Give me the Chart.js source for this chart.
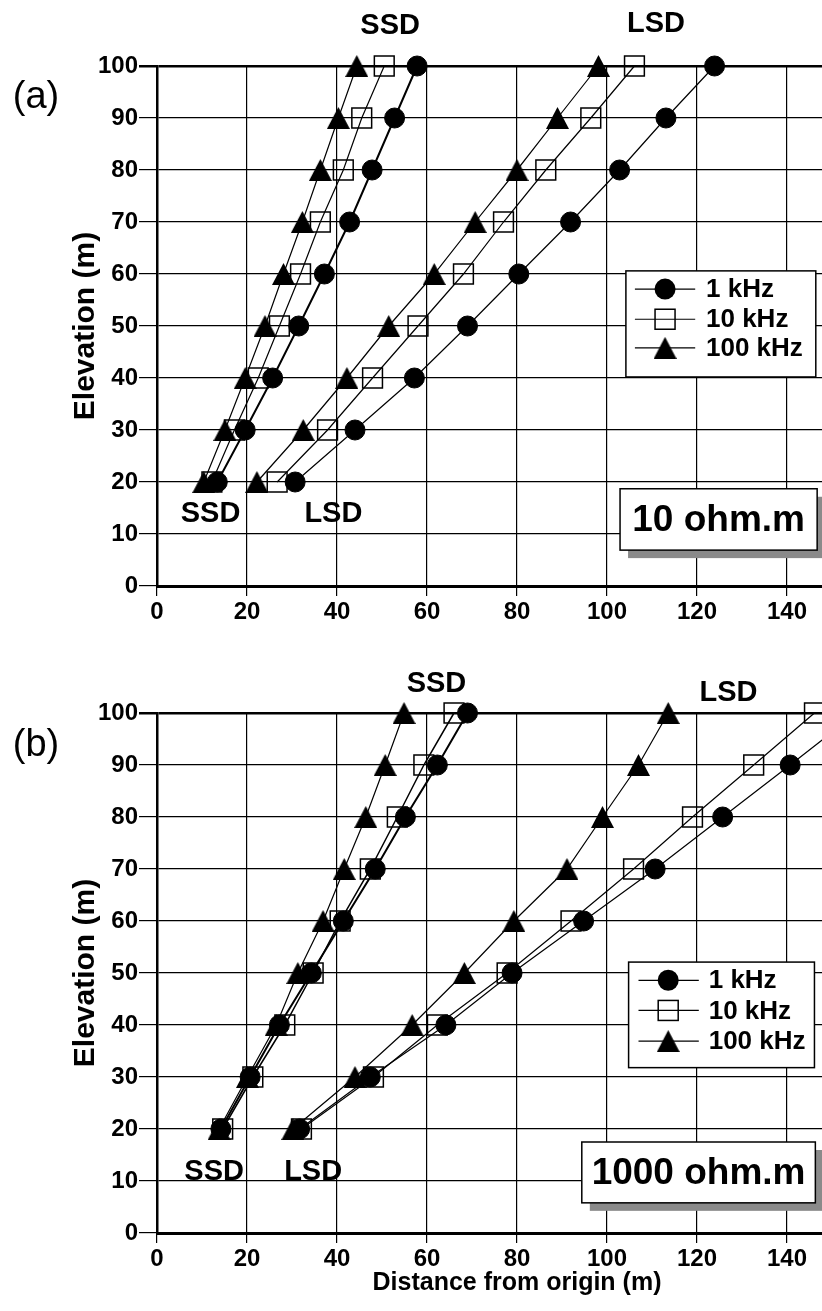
<!DOCTYPE html>
<html>
<head>
<meta charset="utf-8">
<title>Elevation vs distance from origin</title>
<script src="https://cdn.jsdelivr.net/npm/chart.js@4.4.0/dist/chart.umd.min.js"></script>
<style>
  html, body { margin: 0; padding: 0; background: #fff; overflow: hidden; }
  .panel { position: relative; width: 822px; overflow: hidden; }
  canvas { display: block; }
</style>
</head>
<body>
<div class="panel" style="height:650px"><canvas id="chartA" width="877" height="650"></canvas></div>
<div class="panel" style="height:661px"><canvas id="chartB" width="877" height="661"></canvas></div>
<script>
// elevation levels shared by every curve (m)
const elevation = [20, 30, 40, 50, 60, 70, 80, 90, 100];
const seriesLabels = ["1 kHz", "10 kHz", "100 kHz"];
const xTicks = [0, 20, 40, 60, 80, 100, 120, 140];
const yTicks = [0, 10, 20, 30, 40, 50, 60, 70, 80, 90, 100];

// (a) 10 ohm.m - distance from origin (m)
const ssd1kA   = [13.4, 19.6, 25.7, 31.5, 37.2, 42.8, 47.8, 52.8, 57.8];
const ssd10kA  = [12.2, 17.2, 22.5, 27.2, 31.9, 36.3, 41.4, 45.5, 50.5];
const ssd100kA = [10.4, 15.1, 19.6, 24.0, 28.1, 32.3, 36.3, 40.3, 44.4];
const lsd1kA   = [30.7, 44.0, 57.2, 69.0, 80.4, 91.9, 102.8, 113.1, 123.9];
const lsd10kA  = [26.7, 37.9, 47.9, 58.0, 68.1, 77.0, 86.4, 96.4, 106.1];
const lsd100kA = [22.2, 32.5, 42.2, 51.5, 61.6, 70.7, 80.0, 89.0, 98.1];

// (b) 1000 ohm.m
const ssd1kB   = [14.2, 20.7, 27.2, 34.3, 41.4, 48.5, 55.2, 62.3, 69.0];
const ssd10kB  = [14.6, 21.3, 28.4, 34.7, 40.7, 47.4, 53.4, 59.3, 66.0];
const ssd100kB = [13.8, 20.1, 26.5, 31.3, 36.9, 41.6, 46.4, 50.7, 54.9];
const lsd1kB   = [31.7, 47.4, 64.2, 78.9, 94.8, 110.7, 125.7, 140.7, 155.5];
const lsd10kB  = [32.1, 48.1, 62.3, 77.8, 92.0, 105.9, 119.0, 132.6, 146.1];
const lsd100kB = [30.2, 44.0, 56.7, 68.3, 79.3, 91.1, 99.0, 107.0, 113.6];

const FONT = '"Liberation Sans", Arial, sans-serif';
Chart.defaults.font.family = FONT;
Chart.defaults.color = "#000";

function triangleMarker(w, h) {
  const c = document.createElement("canvas");
  c.width = w; c.height = h;
  const g = c.getContext("2d");
  g.beginPath();
  g.moveTo(w / 2, 0);
  g.lineTo(w, h);
  g.lineTo(0, h);
  g.closePath();
  g.fillStyle = "#000";
  g.fill();
  return c;
}
const triImg = triangleMarker(23, 22);

// marker look per frequency (index into seriesLabels)
const markerStyles = [
  { pointStyle: "circle", pointRadius: 10, pointBackgroundColor: "#000", pointBorderWidth: 1, order: 1 },
  { pointStyle: "rect", pointRadius: 14, pointBackgroundColor: "rgba(0,0,0,0)", pointBorderWidth: 1.5, order: 2 },
  { pointStyle: triImg, pointRadius: 11, pointBackgroundColor: "#000", pointBorderWidth: 0, order: 0 }
];

function drawMarker(ctx, i, x, y) {
  if (i === 0) {
    ctx.beginPath();
    ctx.arc(x, y, 10.5, 0, Math.PI * 2);
    ctx.fill();
  } else if (i === 1) {
    ctx.lineWidth = 1.5;
    ctx.strokeRect(x - 10, y - 10, 20, 20);
  } else {
    ctx.drawImage(triImg, x - triImg.width / 2, y - triImg.height / 2);
  }
}

function series(name, xs, freq, width) {
  return Object.assign({
    label: name + " " + seriesLabels[freq],
    data: xs.map((v, i) => ({ x: v, y: elevation[i] })),
    showLine: true,
    borderColor: "#000",
    pointBorderColor: "#000",
    borderWidth: width,
    clip: false
  }, markerStyles[freq]);
}

const overlayPlugin = {
  id: "overlay",
  afterDraw(chart, args, o) {
    const { ctx } = chart;
    const px = v => chart.scales.x.getPixelForValue(v);
    const py = v => chart.scales.y.getPixelForValue(v);
    ctx.save();
    ctx.fillStyle = "#000";
    ctx.strokeStyle = "#000";
    ctx.textBaseline = "middle";
    ctx.textAlign = "center";

    ctx.font = "38px " + FONT;
    ctx.fillText(o.tag, o.tagX, py(o.tagY));

    ctx.font = "bold 29px " + FONT;
    o.notes.forEach(n => ctx.fillText(n.text, px(n.x), py(n.y)));

    // resistivity box with its drop shadow
    const b = o.box;
    const bx = px(b.x1), by = py(b.y2), bw = px(b.x2) - bx, bh = py(b.y1) - by;
    ctx.fillStyle = "#8a8a8a";
    ctx.fillRect(bx + 8, by + 8, bw, bh);
    ctx.fillStyle = "#fff";
    ctx.fillRect(bx, by, bw, bh);
    ctx.lineWidth = 1.5;
    ctx.strokeRect(bx, by, bw, bh);
    ctx.fillStyle = "#000";
    ctx.font = "bold 37px " + FONT;
    ctx.fillText(b.text, bx + bw / 2, by + bh / 2 + 1);

    // legend
    const L = o.legend;
    const lx = px(L.x1), ly = py(L.y2), lw = px(L.x2) - lx, lh = py(L.y1) - ly;
    ctx.fillStyle = "#fff";
    ctx.fillRect(lx, ly, lw, lh);
    ctx.lineWidth = 1.5;
    ctx.strokeRect(lx, ly, lw, lh);
    ctx.fillStyle = "#000";
    ctx.font = "bold 26px " + FONT;
    ctx.textAlign = "left";
    seriesLabels.forEach((lab, i) => {
      const ry = py(L.rows[i]);
      ctx.lineWidth = 1.2;
      ctx.beginPath();
      ctx.moveTo(px(L.line[0]), ry);
      ctx.lineTo(px(L.line[1]), ry);
      ctx.stroke();
      drawMarker(ctx, i, px(L.marker), ry);
      ctx.fillText(lab, px(L.text), ry + 1);
    });
    ctx.restore();
  }
};

function makeScales(withTitle) {
  return {
    x: {
      type: "linear",
      min: 0,
      max: 160,
      afterBuildTicks: s => { s.ticks = xTicks.map(v => ({ value: v })); },
      afterFit: s => { s.height = withTitle ? 78 : 64; },
      grid: { color: "#000", lineWidth: 1.2, tickLength: 10 },
      border: { color: "#000", width: 3 },
      ticks: { font: { size: 24, weight: "bold" }, padding: 2, maxRotation: 0, autoSkip: false },
      title: {
        display: withTitle,
        text: "Distance from origin (m)",
        font: { size: 25, weight: "bold" },
        padding: { top: 0, bottom: 13 }
      }
    },
    y: {
      min: 0,
      max: 100,
      afterBuildTicks: s => { s.ticks = yTicks.map(v => ({ value: v })); },
      afterFit: s => { s.width = 157; },
      grid: {
        color: "#000",
        lineWidth: c => (c.tick && c.tick.value === 100 ? 2.5 : 1.2),
        tickLength: 18
      },
      border: { color: "#000", width: 2.5 },
      ticks: { font: { size: 24, weight: "bold" }, padding: 1, autoSkip: false },
      title: {
        display: true,
        text: "Elevation (m)",
        font: { size: 30, weight: "bold" },
        padding: { top: 68, bottom: 0 }
      }
    }
  };
}

function makeChart(id, datasets, topPad, withTitle, overlay) {
  return new Chart(document.getElementById(id), {
    type: "scatter",
    data: { datasets: datasets },
    options: {
      responsive: false,
      animation: false,
      devicePixelRatio: 1,
      events: [],
      layout: { autoPadding: false, padding: { top: topPad, left: 0, right: 0, bottom: 0 } },
      scales: makeScales(withTitle),
      plugins: {
        legend: { display: false },
        tooltip: { enabled: false },
        overlay: overlay
      }
    },
    plugins: [overlayPlugin]
  });
}

makeChart("chartA", [
  series("SSD", ssd1kA, 0, 2),
  series("SSD", ssd10kA, 1, 1.2),
  series("SSD", ssd100kA, 2, 1.2),
  series("LSD", lsd1kA, 0, 1.2),
  series("LSD", lsd10kA, 1, 1.2),
  series("LSD", lsd100kA, 2, 1.2)
], 66, false, {
  tag: "(a)", tagX: 36, tagY: 94,
  notes: [
    { text: "SSD", x: 51.8, y: 107.6 },
    { text: "LSD", x: 110.9, y: 108.0 },
    { text: "SSD", x: 11.9, y: 13.8 },
    { text: "LSD", x: 39.2, y: 13.8 }
  ],
  box: { x1: 102.9, x2: 146.7, y1: 6.9, y2: 18.7, text: "10 ohm.m" },
  legend: { x1: 104.2, x2: 146.4, y1: 40.2, y2: 60.6, rows: [57.1, 51.3, 45.8], line: [106.2, 119.6], marker: 112.9, text: 122 }
});

makeChart("chartB", [
  series("SSD", ssd1kB, 0, 2),
  series("SSD", ssd10kB, 1, 1.5),
  series("SSD", ssd100kB, 2, 1.2),
  series("LSD", lsd1kB, 0, 1.2),
  series("LSD", lsd10kB, 1, 1.2),
  series("LSD", lsd100kB, 2, 1.2)
], 63, true, {
  tag: "(b)", tagX: 36, tagY: 93.8,
  notes: [
    { text: "SSD", x: 62.1, y: 105.6 },
    { text: "LSD", x: 127, y: 103.8 },
    { text: "SSD", x: 12.7, y: 11.7 },
    { text: "LSD", x: 34.7, y: 11.7 }
  ],
  box: { x1: 94.4, x2: 146.3, y1: 5.8, y2: 17.5, text: "1000 ohm.m" },
  legend: { x1: 104.8, x2: 146.1, y1: 31.8, y2: 52.1, rows: [48.6, 42.8, 36.9], line: [107, 120.4], marker: 113.6, text: 122.6 }
});
</script>
</body>
</html>
